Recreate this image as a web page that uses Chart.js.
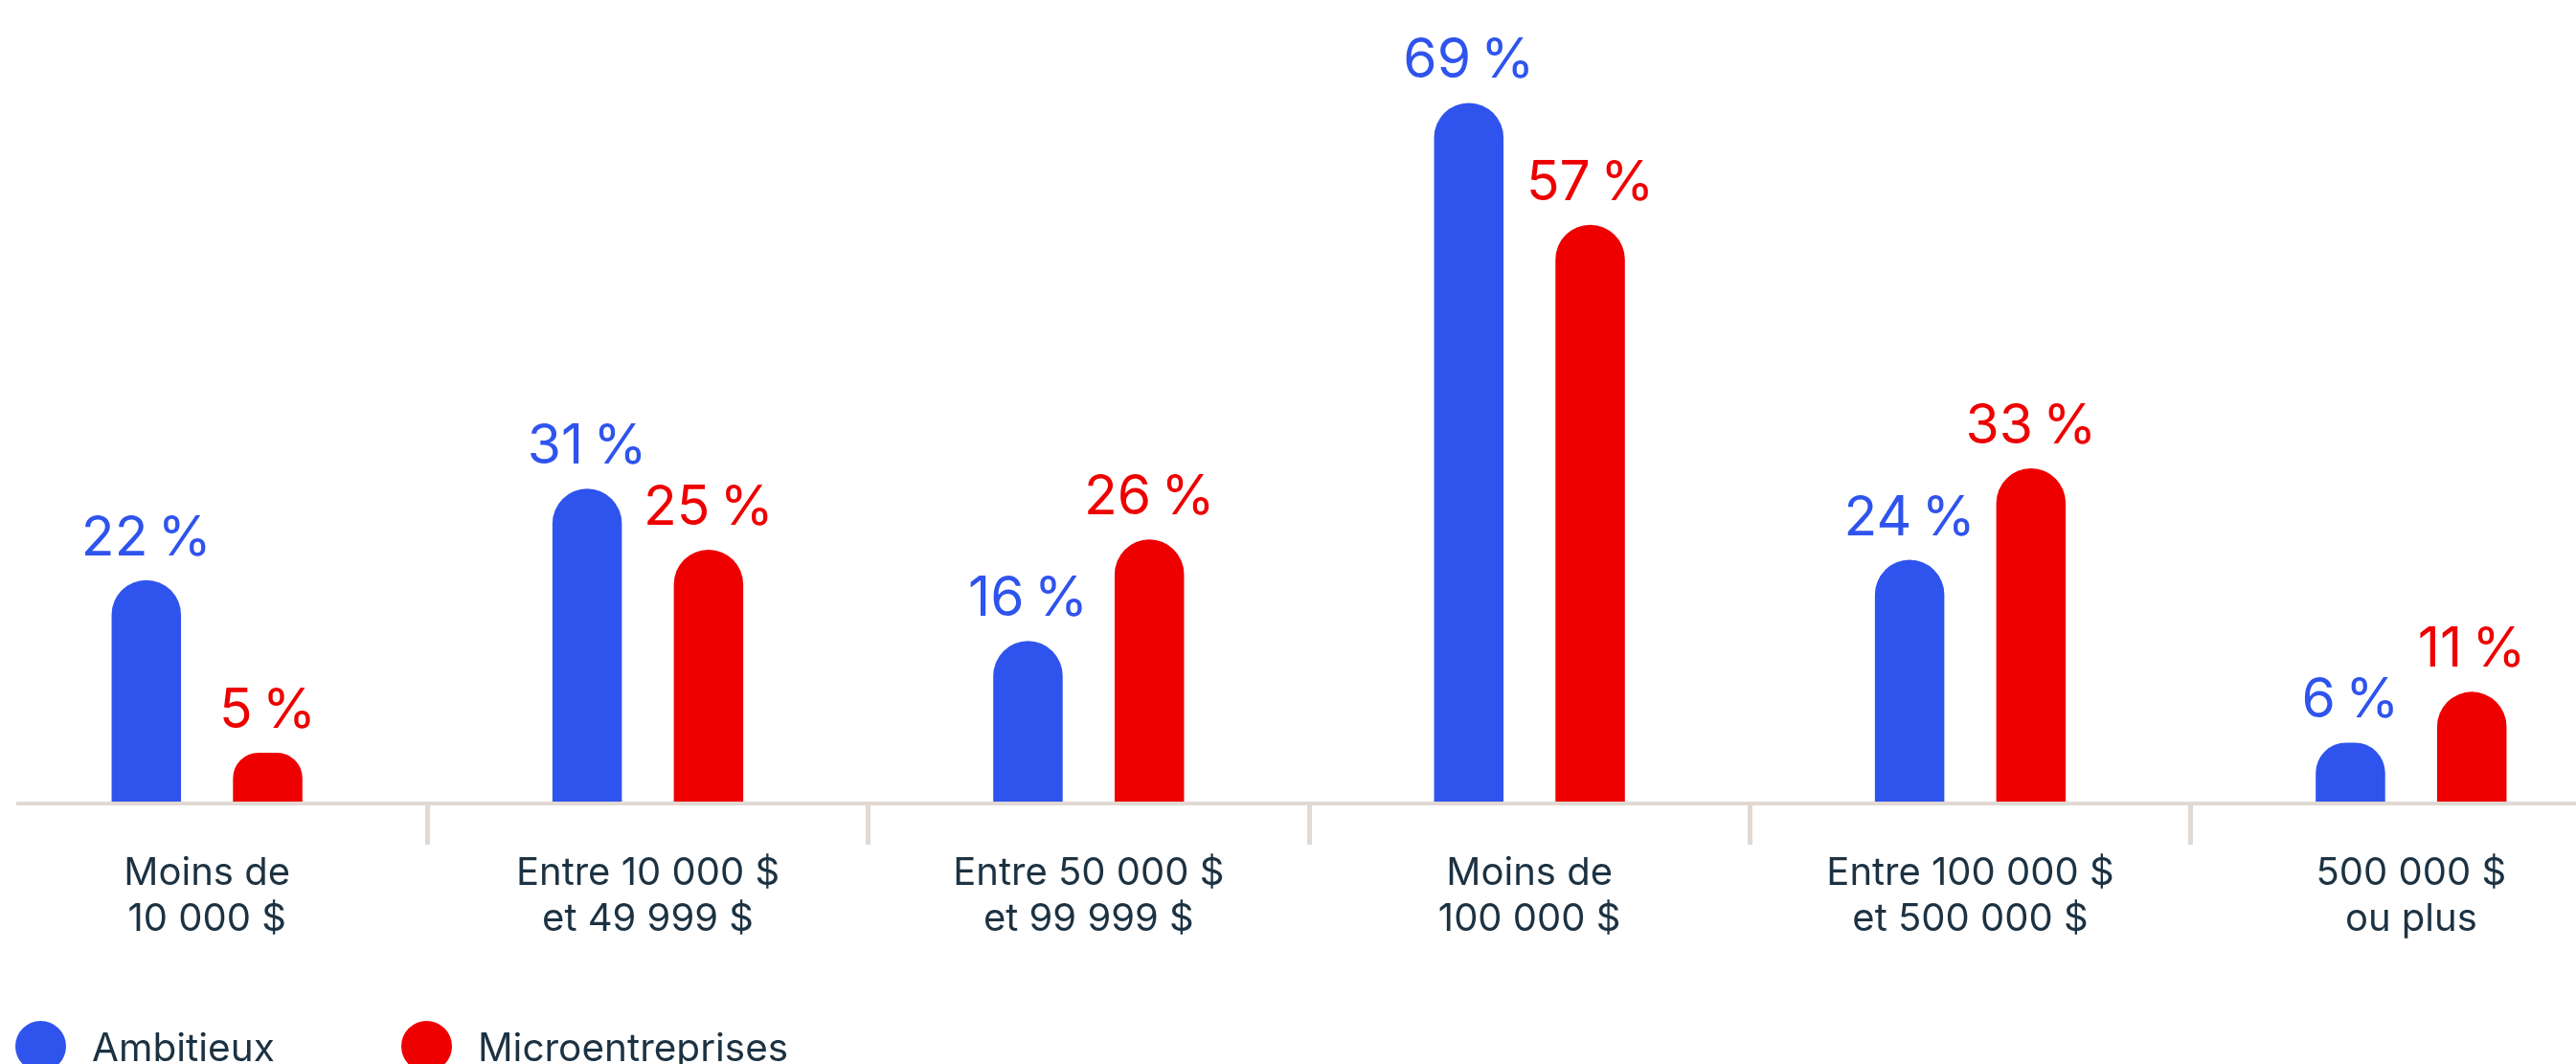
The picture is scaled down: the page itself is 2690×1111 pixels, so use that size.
<!DOCTYPE html>
<html>
<head>
<meta charset="utf-8">
<script src="https://cdn.jsdelivr.net/npm/chart.js@4.4.1/dist/chart.umd.min.js"></script>
<style>
  html, body { margin: 0; padding: 0; background: #fff; overflow: hidden; width: 2690px; height: 1111px; }
  #wrap { position: absolute; left: -14px; top: 0; width: 2762px; height: 1111px; }
</style>
</head>
<body>
<div id="wrap"><canvas id="chart"></canvas></div>
<script>
const categories = [
    ['Moins de', '10 000 $'],
    ['Entre 10 000 $', 'et 49 999 $'],
    ['Entre 50 000 $', 'et 99 999 $'],
    ['Moins de', '100 000 $'],
    ['Entre 100 000 $', 'et 500 000 $'],
    ['500 000 $', 'ou plus']
];
const ambitieux = [22, 31, 16, 69, 24, 6];
const microentreprises = [5, 25, 26, 57, 33, 11];
const seriesNames = ['Ambitieux', 'Microentreprises'];
const seriesColors = ['#2f54ed', '#ee0000'];

const textColor = '#1c3242';
const axisColor = '#e1d9d3';

// value labels above each bar
const valueLabels = {
    id: 'valueLabels',
    afterDatasetsDraw(chart) {
        const ctx = chart.ctx;
        ctx.save();
        ctx.font = '400 57px Inter';
        ctx.textAlign = 'center';
        ctx.textBaseline = 'alphabetic';
        chart.data.datasets.forEach((ds, d) => {
            const meta = chart.getDatasetMeta(d);
            ctx.fillStyle = ds.backgroundColor;
            meta.data.forEach((bar, i) => {
                ctx.fillText(ds.data[i] + '\u202f%', bar.x, bar.y - 26);
            });
        });
        ctx.restore();
    }
};

// horizontal base line, drawn over the bar feet
const baseLine = {
    id: 'baseLine',
    afterDatasetsDraw(chart) {
        const ctx = chart.ctx;
        const y = chart.scales.x.top;
        ctx.save();
        ctx.fillStyle = axisColor;
        ctx.fillRect(31, y - 2, chart.width - 31, 4);
        ctx.restore();
    }
};

// legend with round markers at the bottom left
const bottomLegend = {
    id: 'bottomLegend',
    afterDraw(chart) {
        const ctx = chart.ctx;
        const starts = [30, 433];
        ctx.save();
        ctx.font = '400 40.5px Inter';
        ctx.textBaseline = 'alphabetic';
        ctx.textAlign = 'left';
        chart.data.datasets.forEach((ds, d) => {
            const x = starts[d];
            ctx.fillStyle = ds.backgroundColor;
            ctx.beginPath();
            ctx.arc(x + 26.5, 1092.5, 26.5, 0, Math.PI * 2);
            ctx.fill();
            ctx.fillStyle = textColor;
            ctx.fillText(ds.label, x + 80, 1108);
        });
        ctx.restore();
    }
};

const ctx = document.getElementById('chart');
new Chart(ctx, {
    type: 'bar',
    data: {
        labels: categories,
        datasets: [
            { label: seriesNames[0], data: ambitieux, backgroundColor: seriesColors[0] },
            { label: seriesNames[1], data: microentreprises, backgroundColor: seriesColors[1] }
        ]
    },
    options: {
        responsive: true,
        maintainAspectRatio: false,
        animation: false,
        devicePixelRatio: 1,
        layout: { padding: { top: 12, left: 0, right: 0, bottom: 0 } },
        datasets: {
            bar: {
                categoryPercentage: 0.5507,
                barPercentage: 0.572,
                borderSkipped: 'start',
                borderRadius: { topLeft: 37, topRight: 37, bottomLeft: 0, bottomRight: 0 }
            }
        },
        scales: {
            x: {
                offset: true,
                border: { display: false },
                grid: {
                    offset: true,
                    drawOnChartArea: false,
                    drawTicks: true,
                    tickLength: 43,
                    tickWidth: 5,
                    tickColor: axisColor,
                    color: axisColor
                },
                ticks: {
                    color: textColor,
                    padding: 6,
                    maxRotation: 0,
                    autoSkip: false,
                    font: { family: 'Inter', size: 40, lineHeight: 1.2 }
                },
                afterFit(scale) { scale.height = 272; }
            },
            y: {
                display: false,
                min: 0,
                max: 78
            }
        },
        plugins: {
            legend: { display: false },
            tooltip: { enabled: false }
        }
    },
    plugins: [baseLine, valueLabels, bottomLegend]
});
</script>
</body>
</html>
